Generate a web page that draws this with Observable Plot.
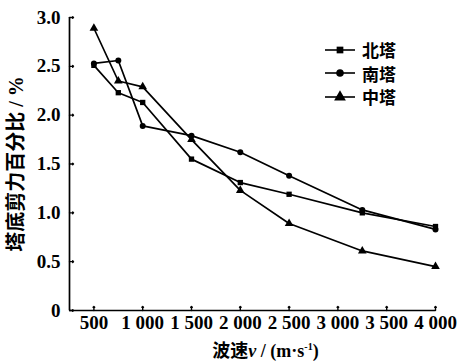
<!DOCTYPE html>
<html>
<head>
<meta charset="utf-8">
<script src="https://cdn.jsdelivr.net/npm/d3@7"></script>
<script src="https://cdn.jsdelivr.net/npm/@observablehq/plot@0.6"></script>
<style>
  html, body { margin: 0; padding: 0; background: #fff; }
  #wrap { position: relative; width: 461px; height: 361px; overflow: hidden;
          font-family: "Liberation Serif", "Noto Sans CJK SC", serif; font-weight: bold; color: #000; }
  #xtitle { position: absolute; left: 0; width: 461px; top: 340px; text-align: center;
            font-size: 18px; line-height: 22px; padding-left: 70px; box-sizing: border-box; }
  #xtitle sup { font-size: 10px; line-height: 0; }
  #legend { position: absolute; left: 322px; top: 38px; font-size: 17px; }
  #legend .row { display: flex; align-items: center; height: 23.5px; }
  #legend svg { margin-right: 4px; }
</style>
</head>
<body>
<div id="wrap">
  <div id="chart"></div>
  <div id="legend"></div>
  <div id="xtitle">波速<i>v</i> / (m·s<sup>-1</sup>)</div>
</div>
<script>
// ---- data ----
const velocity = [500, 750, 1000, 1500, 2000, 2500, 3250, 4000];
const north  = [2.51, 2.23, 2.13, 1.55, 1.31, 1.19, 1.00, 0.86];
const south  = [2.53, 2.56, 1.89, 1.79, 1.62, 1.38, 1.03, 0.83];
const middle = [2.89, 2.35, 2.29, 1.75, 1.23, 0.89, 0.61, 0.45];
const seriesNames = ["北塔", "南塔", "中塔"];
const seriesSymbols = ["square", "circle", "triangle"];
const xTicks = [500, 1000, 1500, 2000, 2500, 3000, 3500, 4000];
const yTicks = [0, 0.5, 1.0, 1.5, 2.0, 2.5, 3.0];
const yTitle = "塔底剪力百分比 / %";

const seriesValues = [north, south, middle];
const rows = [];
seriesValues.forEach((vals, si) => {
  vals.forEach((v, i) => rows.push({series: seriesNames[si], sym: seriesSymbols[si], x: velocity[i], y: v}));
});

const xFmt = d => d >= 1000 ? `${Math.floor(d / 1000)} ${String(d % 1000).padStart(3, "0")}` : String(d);
const yFmt = d => d === 0 ? "0" : d.toFixed(1);

const chart = Plot.plot({
  width: 461,
  height: 338,
  marginLeft: 69,
  marginRight: 26,
  marginTop: 17,
  marginBottom: 28,
  style: {fontFamily: '"Liberation Serif", "Noto Sans CJK SC", serif', fontWeight: "bold", fontSize: "19px", background: "transparent", color: "#000"},
  x: {domain: [250, 4000]},
  y: {domain: [0, 3]},
  marks: [
    Plot.axisX(xTicks, {tickSize: 0, tickPadding: 5, tickFormat: xFmt, label: null, fontSize: 19}),
    Plot.axisY(yTicks, {tickSize: 0, tickPadding: 9, tickFormat: yFmt, label: yTitle, labelAnchor: "center", labelArrow: "none", labelOffset: 61, fontSize: 19}),
    Plot.vector(xTicks, {x: d => d, frameAnchor: "bottom", length: 4, rotate: 0, anchor: "start", stroke: "#000", strokeWidth: 1.4}),
    Plot.vector(yTicks, {y: d => d, frameAnchor: "left", length: 4, rotate: 90, anchor: "start", stroke: "#000", strokeWidth: 1.4}),
    Plot.ruleX([250], {stroke: "#000", strokeWidth: 1.7}),
    Plot.ruleY([0], {stroke: "#000", strokeWidth: 1.7}),
    Plot.line(rows, {x: "x", y: "y", z: "series", stroke: "#000", strokeWidth: 1.7}),
    Plot.dot(rows, {x: "x", y: "y", symbol: "sym", r: d => d.sym === "triangle" ? 5.2 : 4.5, fill: "#000", stroke: "none"})
  ]
});
chart.querySelectorAll("[aria-label='y-axis label'] text").forEach(t => t.setAttribute("font-size", "20"));
document.getElementById("chart").appendChild(chart);

// legend
const legend = d3.select("#legend");
seriesNames.forEach((name, i) => {
  const row = legend.append("div").attr("class", "row");
  const svg = row.append("svg").attr("width", 36).attr("height", 14);
  svg.append("line").attr("x1", 3).attr("x2", 33).attr("y1", 7).attr("y2", 7).attr("stroke", "#000").attr("stroke-width", 1.6);
  const sym = {square: d3.symbolSquare, circle: d3.symbolCircle, triangle: d3.symbolTriangle}[seriesSymbols[i]];
  svg.append("path").attr("transform", "translate(18,7)").attr("d", d3.symbol(sym, seriesSymbols[i] === "triangle" ? 60 : 45)()).attr("fill", "#000");
  row.append("span").text(name);
});
</script>
</body>
</html>
